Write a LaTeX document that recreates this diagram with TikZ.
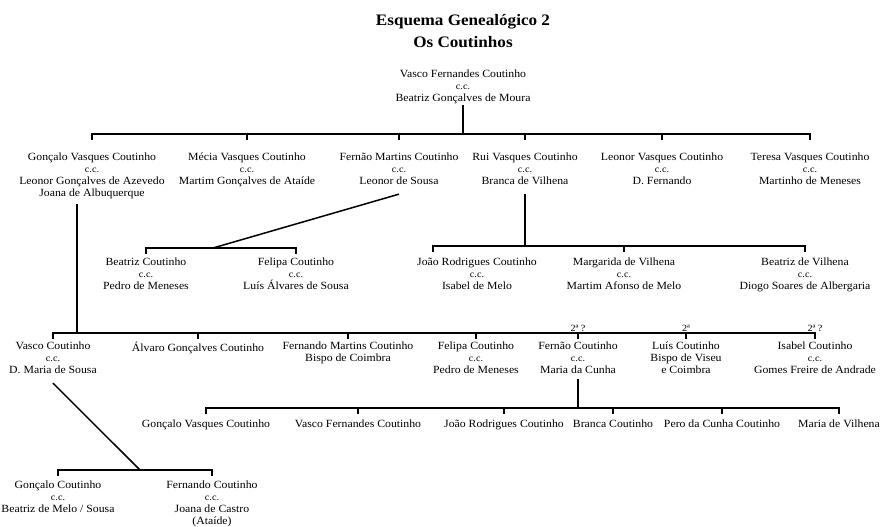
\documentclass[tikz,border=0pt]{standalone}
\usepackage{fontspec}
\setmainfont[FakeStretch=1.07]{Liberation Serif}
\usetikzlibrary{calc}
\newcommand{\casado}{{\fontsize{9.5}{12}\selectfont c.c.}}
\tikzset{
  pessoa/.style={anchor=north, align=center, inner sep=1pt, font=\fontsize{11}{12}\selectfont},
  ramo/.style={line width=1.5pt},
  grau/.style={above, inner sep=1.5pt, font=\fontsize{9.5}{10}\selectfont},
}
\begin{document}
\begin{tikzpicture}[x=1pt, y=-1pt]
\useasboundingbox (0,0) rectangle (886,527);
\node[align=center, font=\fontsize{16}{22}\selectfont\bfseries] (titulo) at (463,31) {Esquema Genealógico 2\\Os Coutinhos};
\node[pessoa] (vfc) at (463,69) {Vasco Fernandes Coutinho\\\casado\\Beatriz Gonçalves de Moura};
% filhos
\node[pessoa] (gvc) at (92,152) {Gonçalo Vasques Coutinho\\\casado\\Leonor Gonçalves de Azevedo\\Joana de Albuquerque};
\node[pessoa] (mvc) at (247,152) {Mécia Vasques Coutinho\\\casado\\Martim Gonçalves de Ataíde};
\node[pessoa] (fmc) at (399,152) {Fernão Martins Coutinho\\\casado\\Leonor de Sousa};
\node[pessoa] (rvc) at (525,152) {Rui Vasques Coutinho\\\casado\\Branca de Vilhena};
\node[pessoa] (lvc) at (662,152) {Leonor Vasques Coutinho\\\casado\\D. Fernando};
\node[pessoa] (tvc) at (810,152) {Teresa Vasques Coutinho\\\casado\\Martinho de Meneses};
\coordinate (b1) at (0,134);
\draw[ramo] (vfc.south) -- (vfc.south |- b1);
\draw[ramo] ($(gvc.north |- b1)+(0,6)$) -- (gvc.north |- b1) -- (tvc.north |- b1) -- ++(0,6);
\foreach \f in {mvc,fmc,rvc,lvc} \draw[ramo] (\f.north |- b1) -- ++(0,6);
% Fernão Martins
\node[pessoa] (bc) at (146,257) {Beatriz Coutinho\\\casado\\Pedro de Meneses};
\node[pessoa] (fc) at (296,257) {Felipa Coutinho\\\casado\\Luís Álvares de Sousa};
\coordinate (b2) at (213,248);
\draw[ramo] ([yshift=-8pt]fmc.south) -- (b2);
\draw[ramo] ($(bc.north |- b2)+(0,6)$) -- (bc.north |- b2) -- (fc.north |- b2) -- ++(0,6);
% Rui
\node[pessoa] (jrc) at (477,257) {João Rodrigues Coutinho\\\casado\\Isabel de Melo};
\node[pessoa] (mdv) at (624,257) {Margarida de Vilhena\\\casado\\Martim Afonso de Melo};
\node[pessoa] (bdv) at (805,257) {Beatriz de Vilhena\\\casado\\Diogo Soares de Albergaria};
\coordinate (b2r) at (0,246);
\draw[ramo] ([yshift=-8pt]rvc.south) -- (rvc.south |- b2r);
\draw[ramo] ($(jrc.north |- b2r)+(-44,6)$) -- ++(0,-6) -- (bdv.north |- b2r) -- ++(0,6);
\draw[ramo] (mdv.north |- b2r) -- ++(0,6);
% Gonçalo Vasques
\node[pessoa] (vc) at (53,341) {Vasco Coutinho\\\casado\\D. Maria de Sousa};
\node[pessoa] (agc) at (198,341) {Álvaro Gonçalves Coutinho};
\node[pessoa] (fmb) at (348,341) {Fernando Martins Coutinho\\Bispo de Coimbra};
\node[pessoa] (fpc) at (476,341) {Felipa Coutinho\\\casado\\Pedro de Meneses};
\node[pessoa] (fcc) at (578,341) {Fernão Coutinho\\\casado\\Maria da Cunha};
\node[pessoa] (lcb) at (686,341) {Luís Coutinho\\Bispo de Viseu\\e Coimbra};
\node[pessoa] (icc) at (815,341) {Isabel Coutinho\\\casado\\Gomes Freire de Andrade};
\coordinate (b3) at (0,333);
\draw[ramo] ($(gvc.south)+(-15,4)$) -- ($(gvc.south |- b3)+(-15,0)$);
\draw[ramo] ($(vc.north |- b3)+(0,6)$) -- (vc.north |- b3) -- (icc.north |- b3) -- ++(0,6);
\foreach \f in {agc,fmb,fpc,fcc,lcb} \draw[ramo] (\f.north |- b3) -- ++(0,6);
\node[grau] (g1) at (fcc.north |- b3) {2ª ?};
\node[grau] (g2) at (lcb.north |- b3) {2ª};
\node[grau] (g3) at (icc.north |- b3) {2ª ?};
% Fernão Coutinho
\node[pessoa] (gvc4) at (206,419) {Gonçalo Vasques Coutinho};
\node[pessoa] (vfc4) at (358,419) {Vasco Fernandes Coutinho};
\node[pessoa] (jrc4) at (504,419) {João Rodrigues Coutinho};
\node[pessoa] (bc4) at (613,419) {Branca Coutinho};
\node[pessoa] (pcc) at (722,419) {Pero da Cunha Coutinho};
\node[pessoa] (mdv4) at (839,419) {Maria de Vilhena};
\coordinate (b4) at (0,408);
\draw[ramo] ([yshift=-4pt]fcc.south) -- (fcc.south |- b4);
\draw[ramo] ($(gvc4.north |- b4)+(0,6)$) -- (gvc4.north |- b4) -- (mdv4.north |- b4) -- ++(0,6);
\foreach \f in {vfc4,jrc4,bc4,pcc} \draw[ramo] (\f.north |- b4) -- ++(0,6);
% Vasco Coutinho
\node[pessoa] (gc5) at (58,480) {Gonçalo Coutinho\\\casado\\Beatriz de Melo / Sousa};
\node[pessoa] (fc5) at (212,480) {Fernando Coutinho\\\casado\\Joana de Castro\\(Ataíde)};
\coordinate (b5) at (140,470);
\draw[ramo] ([yshift=-8pt]vc.south) -- (b5);
\draw[ramo] ($(gc5.north |- b5)+(0,6)$) -- (gc5.north |- b5) -- (fc5.north |- b5) -- ++(0,6);
\end{tikzpicture}
\end{document}
